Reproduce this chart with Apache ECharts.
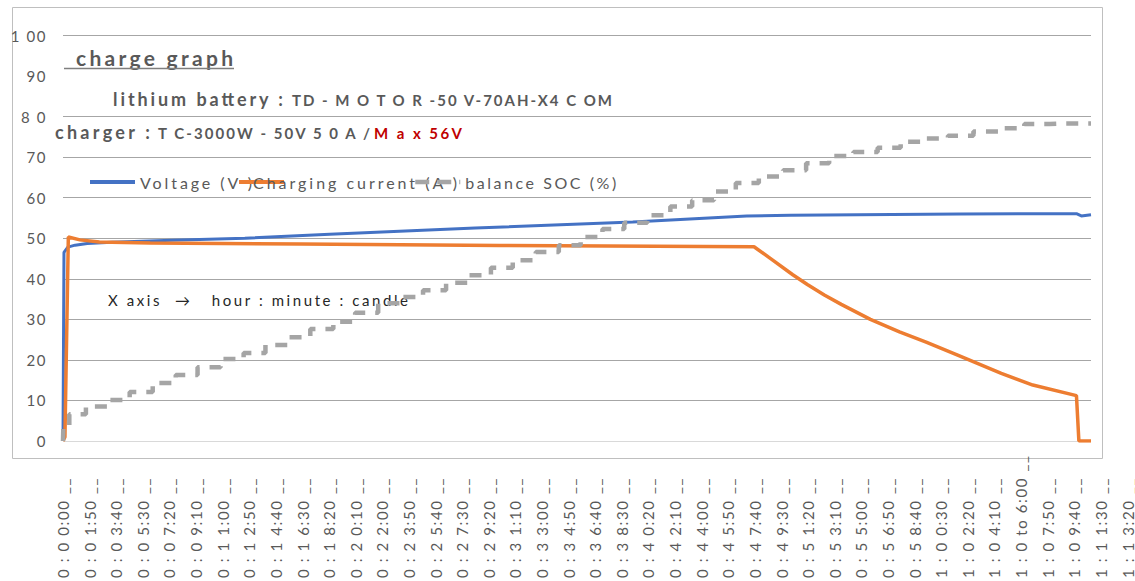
<!DOCTYPE html>
<html><head><meta charset="utf-8">
<script src="https://cdn.jsdelivr.net/npm/echarts@6/dist/echarts.min.js"></script>
<style>
html,body{margin:0;padding:0;background:#fff;}
#chart{width:1135px;height:581px;}
#chart text{letter-spacing:1.6px;white-space:pre;}
</style></head><body><div id="chart"></div>
<script>
// ---- data (time in seconds from start) ----
const timeLabels = ['0 : 0 0:00','0 : 0 1:50','0 : 0 3:40','0 : 0 5:30','0 : 0 7:20','0 : 0 9:10','0 : 1 1:00','0 : 1 2:50','0 : 1 4:40','0 : 1 6:30','0 : 1 8:20','0 : 2 0:10','0 : 2 2:00','0 : 2 3:50','0 : 2 5:40','0 : 2 7:30','0 : 2 9:20','0 : 3 1:10','0 : 3 3:00','0 : 3 4:50','0 : 3 6:40','0 : 3 8:30','0 : 4 0:20','0 : 4 2:10','0 : 4 4:00','0 : 4 5:50','0 : 4 7:40','0 : 4 9:30','0 : 5 1:20','0 : 5 3:10','0 : 5 5:00','0 : 5 6:50','0 : 5 8:40','1 : 0 0:30','1 : 0 2:20','1 : 0 4:10','1 : 0 to 6:00','1 : 0 7:50','1 : 0 9:40','1 : 1 1:30','1 : 1 3:20'];
const yLabels = ['0','10','20','30','40','50','60','70','8 0','90','1 00'];
const seriesNames = ['Voltage (V )','Charging current (A )','balance SOC (%)'];
const voltage = [[0,0],[4,46.5],[20,47.8],[50,48.3],[100,48.7],[200,49.0],[450,49.5],[750,50.0],[1100,51.0],[1700,52.5],[2350,54.0],[2820,55.5],[3000,55.7],[3700,56.0],[4180,56.05],[4200,55.5],[4240,55.8]];
const current = [[0,0],[8,1],[22,50.3],[70,49.6],[150,49.1],[360,48.8],[980,48.6],[1800,48.2],[2850,47.9],[2930,44.5],[3010,41.0],[3070,38.6],[3140,36.0],[3210,33.7],[3330,30.0],[3450,26.9],[3560,24.4],[3690,21.2],[3870,16.7],[4000,13.8],[4180,11.2],[4190,0],[4240,0]];
const soc = [[0,0],[3,3.7],[49,6.6],[140,8.5],[230,10.1],[320,12.1],[420,14.3],[510,16.3],[600,18.2],[700,20.2],[790,21.7],[880,23.7],[970,25.6],[1070,27.6],[1160,29.4],[1250,31.6],[1350,34.0],[1440,35.5],[1530,37.2],[1630,39.0],[1720,40.9],[1810,42.7],[1900,44.6],[2000,46.6],[2090,48.3],[2180,50.3],[2270,52.3],[2360,53.8],[2460,55.7],[2550,57.8],[2640,59.4],[2730,61.5],[2820,63.6],[2920,65.2],[3020,66.8],[3110,68.5],[3210,70.3],[3310,71.3],[3410,72.3],[3500,73.8],[3600,74.6],[3700,75.3],[3810,76.3],[3910,77.1],[4020,78.2],[4120,78.3],[4240,78.3]];
const titleText = 'charge graph';
const batteryLabel = 'lithium battery :';
const batteryModel = 'TD - M O T O R -50 V-70AH-X4 C OM';
const chargerLabel = 'charger :';
const chargerModel = 'T C-3000W - 50V 5 0 A /';
const chargerMax = 'M a x 56V';
const axisNote = 'X axis  \u2192   hour : minute : candle';

// ---- chart ----
const gray = '#595959';
const gl = '#a6a6a6';
const colors = ['#4472C4', '#ED7D31', '#A5A5A5'];
const chart = echarts.init(document.getElementById('chart'), null, {renderer: 'svg'});
const legendBase = {top: 174, padding: 0, itemWidth: 45, itemHeight: 14, itemGap: 0, selectedMode: false,
  itemStyle: {opacity: 0}, textStyle: {color: gray, fontSize: 16, fontFamily: 'Lato'}};
chart.setOption({
  animation: false,
  textStyle: {fontFamily: 'Lato'},
  grid: [
    {left: 63, top: 35.5, width: 1028, height: 405.5},
    {left: 63, top: 400, width: 1066.7, height: 41}
  ],
  xAxis: [
    {type: 'value', gridIndex: 0, min: 0, max: 4240, show: false},
    {type: 'value', gridIndex: 1, min: 0, max: 4400, interval: 110,
      axisLine: {show: false}, axisTick: {show: false}, splitLine: {show: false},
      axisLabel: {rotate: 90, align: 'left', verticalAlign: 'middle', margin: 137, color: gray,
        fontSize: 15, fontFamily: 'Lato', showMinLabel: true, showMaxLabel: true,
        formatter: v => timeLabels[Math.round(v / 110)] + ' __'}}
  ],
  yAxis: [
    {type: 'value', gridIndex: 0, min: 0, max: 100, interval: 10,
      axisLine: {show: false}, axisTick: {show: false},
      axisLabel: {margin: 16, color: gray, fontSize: 15, fontFamily: 'Lato', formatter: v => yLabels[Math.round(v / 10)]},
      splitLine: {lineStyle: {width: 1, color: ['#d9d9d9', gl, gl, gl, gl, gl, gl, gl, gl, 'rgba(0,0,0,0)', gl]}}},
    {type: 'value', gridIndex: 1, show: false}
  ],
  legend: [
    Object.assign({}, legendBase, {left: 88, data: [seriesNames[0]], lineStyle: {width: 4, color: colors[0]}}),
    Object.assign({}, legendBase, {left: 237, data: [seriesNames[1]], lineStyle: {width: 4, color: colors[1]},
      textStyle: {color: gray, fontSize: 16, fontFamily: 'Lato', padding: [0, 0, 0, -36]}}),
    Object.assign({}, legendBase, {left: 413, data: [seriesNames[2]], lineStyle: {width: 4.5, color: colors[2], type: [14, 8]}})
  ],
  graphic: [
    {type: 'rect', z: -10, silent: true, shape: {x: 12.5, y: 7.5, width: 1090, height: 451},
      style: {fill: 'none', stroke: '#bfbfbf', lineWidth: 1}},
    {type: 'text', x: 76, y: 57, style: {text: titleText, font: 'bold 21px Lato', fill: gray, verticalAlign: 'middle'}},
    {type: 'line', shape: {x1: 64, y1: 68.5, x2: 234, y2: 68.5}, style: {stroke: '#7f7f7f', lineWidth: 1.3}},
    {type: 'text', x: 113, y: 99, style: {text: batteryLabel, font: 'bold 18px Lato', fill: gray, verticalAlign: 'middle'}},
    {type: 'text', x: 292, y: 100, style: {text: batteryModel, font: 'bold 15px Lato', fill: gray, verticalAlign: 'middle'}},
    {type: 'text', x: 55, y: 132, style: {text: chargerLabel, font: 'bold 18px Lato', fill: gray, verticalAlign: 'middle'}},
    {type: 'text', x: 158, y: 133, style: {text: chargerModel, font: 'bold 15px Lato', fill: gray, verticalAlign: 'middle'}},
    {type: 'text', x: 374, y: 133, style: {text: chargerMax, font: 'bold 15px Lato', fill: '#C00000', verticalAlign: 'middle'}},
    {type: 'text', x: 108, y: 300, style: {text: axisNote, font: '15px Lato', fill: '#262626', verticalAlign: 'middle'}}
  ],
  series: [
    {name: seriesNames[0], type: 'line', xAxisIndex: 0, yAxisIndex: 0, data: voltage, symbol: 'none', showSymbol: false,
      lineStyle: {color: colors[0], width: 3}, itemStyle: {color: colors[0]}},
    {name: seriesNames[1], type: 'line', xAxisIndex: 0, yAxisIndex: 0, data: current, symbol: 'none', showSymbol: false,
      lineStyle: {color: colors[1], width: 3.5}, itemStyle: {color: colors[1]}},
    {name: seriesNames[2], type: 'line', xAxisIndex: 0, yAxisIndex: 0, data: soc, symbol: 'none', showSymbol: false, step: 'middle',
      lineStyle: {color: colors[2], width: 4.5, type: [12, 10], cap: 'butt'}, itemStyle: {color: colors[2]}}
  ]
});

// fit text widths like the reference (letter-spaced text)
const fitWidths = {};
fitWidths[titleText] = 157; fitWidths[batteryLabel] = 170; fitWidths[batteryModel] = 320;
fitWidths[chargerLabel] = 95; fitWidths[chargerModel] = 212; fitWidths[chargerMax] = 88;
fitWidths[axisNote.replace(/\s+/g, ' ')] = 300;
fitWidths[seriesNames[0]] = 112; fitWidths[seriesNames[1]] = 204; fitWidths[seriesNames[2]] = 151;
document.querySelectorAll('#chart text').forEach(t => {
  const key = t.textContent.replace(/\s+/g, ' ').trim();
  if (fitWidths[key]) {
    t.style.letterSpacing = '0px';
    t.setAttribute('textLength', fitWidths[key]);
    t.setAttribute('lengthAdjust', 'spacing');
  }
});
</script></body></html>
